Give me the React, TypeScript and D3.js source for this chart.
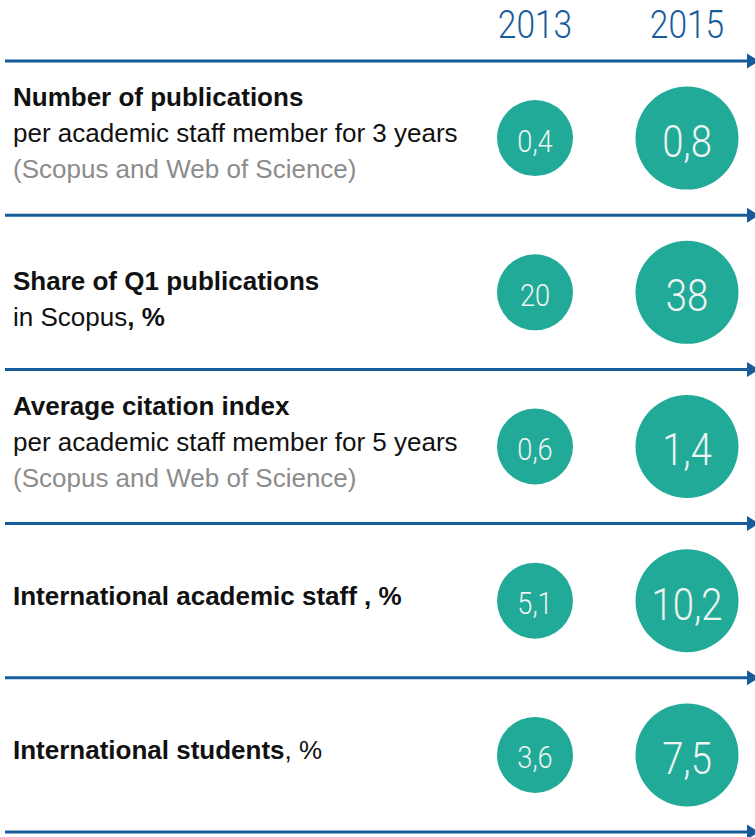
import { useEffect } from 'react';
import * as d3 from 'd3';

// data
const years = ['2013', '2015'];
const values2013 = [0.4, 20, 0.6, 5.1, 3.6];
const values2015 = [0.8, 38, 1.4, 10.2, 7.5];

// each label line is a list of [text, role]; role: title | sub | note
const labels: [string, string][][][] = [
  [
    [['Number of publications', 'title']],
    [['per academic staff member for 3 years', 'sub']],
    [['(Scopus and Web of Science)', 'note']],
  ],
  [
    [['Share of Q1 publications', 'title']],
    [['in Scopus', 'sub'], [', %', 'title']],
  ],
  [
    [['Average citation index', 'title']],
    [['per academic staff member for 5 years', 'sub']],
    [['(Scopus and Web of Science)', 'note']],
  ],
  [[['International academic staff , %', 'title']]],
  [[['International students', 'title'], [', %', 'sub']]],
];

const width = 755,
  height = 837,
  top = 61,
  bottom = 832,
  lineGap = 36;

const blue = '#175c9a',
  teal = '#22aa98',
  labelFont = "'Liberation Sans', Arial, sans-serif",
  numFont = 'Roboto, sans-serif';

const fmt = d3
  .formatLocale({ decimal: ',', thousands: ' ', grouping: [3], currency: ['', ''] })
  .format('~g');

export default function App() {
  useEffect(() => {
    document.body.style.margin = '0';
  }, []);

  const rows = d3.range(labels.length);
  const y = d3.scaleBand<number>().domain(rows).range([top, bottom]);
  const x = d3.scalePoint<string>().domain(years).range([535, 687]);
  const r = d3.scaleOrdinal<string, number>().domain(years).range([38, 51.5]);
  const fs = d3.scaleOrdinal<string, number>().domain(years).range([32, 45]);
  const series = [values2013, values2015];

  const roleStyle = (role: string) => ({
    fontWeight: role === 'title' ? 700 : 400,
    fill: role === 'note' ? '#8c8c8c' : '#111',
  });

  const edges = [...rows.map((i) => y(i) as number), bottom];

  return (
    <svg width={width} height={height} style={{ display: 'block' }}>
      {years.map((yr) => (
        <text
          key={yr}
          transform={`translate(${x(yr)},38) scale(0.86,1)`}
          textAnchor="middle"
          fontFamily={numFont}
          fontWeight={300}
          fontSize={39}
          fill={blue}
        >
          {yr}
        </text>
      ))}

      {edges.map((ly, i) => (
        <g key={i}>
          <line x1={5} x2={748} y1={ly} y2={ly} stroke={blue} strokeWidth={3} />
          <path d={`M747,${ly - 7.5}L759,${ly}L747,${ly + 7.5}Z`} fill={blue} />
        </g>
      ))}

      {rows.map((i) => {
        const cy = (y(i) as number) + y.bandwidth() / 2;
        const lines = labels[i];
        // two-line blocks sit a little lower in the original layout
        const shift = lines.length === 2 ? 12 : 0;
        const first = cy + 4 + shift - ((lines.length - 1) * lineGap) / 2;
        return (
          <g key={i}>
            {lines.map((segs, j) => (
              <text
                key={j}
                x={13}
                y={first + j * lineGap}
                fontFamily={labelFont}
                fontSize={26}
              >
                {segs.map(([t, role], k) => (
                  <tspan key={k} style={roleStyle(role)}>
                    {t}
                  </tspan>
                ))}
              </text>
            ))}
            {years.map((yr, s) => (
              <g key={yr}>
                <circle cx={x(yr)} cy={cy} r={r(yr)} fill={teal} />
                <text
                  transform={`translate(${x(yr)},${cy + fs(yr) * 0.42}) scale(0.85,1)`}
                  textAnchor="middle"
                  fontFamily={numFont}
                  fontWeight={300}
                  fontSize={fs(yr)}
                  fill="#eef4f2"
                >
                  {fmt(series[s][i])}
                </text>
              </g>
            ))}
          </g>
        );
      })}
    </svg>
  );
}
